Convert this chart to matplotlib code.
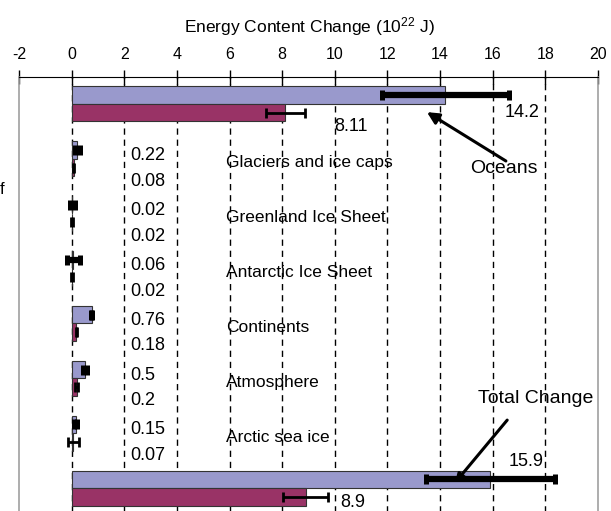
import numpy as np
import matplotlib
matplotlib.use("Agg")
import matplotlib.pyplot as plt

plt.rcParams["font.family"] = ["Liberation Sans", "DejaVu Sans"]
plt.rcParams["mathtext.default"] = "regular"
plt.rcParams["axes.unicode_minus"] = False

categories = ["Oceans", "Glaciers and ice caps", "Greenland Ice Sheet",
              "Antarctic Ice Sheet", "Continents", "Atmosphere",
              "Arctic sea ice", "Total Change"]
# 1961-2003 (upper bar) and 1993-2003 (lower bar), 10^22 J
change_long = [14.2, 0.22, 0.02, 0.06, 0.76, 0.5, 0.15, 15.9]
err_long = [2.4, 0.1, 0.1, 0.25, 0.03, 0.08, 0.05, 2.45]
change_short = [8.11, 0.08, 0.02, 0.02, 0.18, 0.2, 0.07, 8.9]
err_short = [0.74, 0.02, 0.04, 0.04, 0.02, 0.06, 0.22, 0.85]
xticks = list(range(-2, 21, 2))

purple = "#9999cc"
maroon = "#993366"

fig = plt.figure(figsize=(6.11, 5.11), dpi=100)
ax = fig.add_axes([19 / 611, 1 - 520 / 511, 579 / 611, 443 / 511])

rows = np.arange(len(categories))
h = 0.32
ax.barh(rows - h / 2, change_long, height=h, color=purple,
        edgecolor="#333333", linewidth=0.8, zorder=2)
ax.barh(rows + h / 2, change_short, height=h, color=maroon,
        edgecolor="#333333", linewidth=0.8, zorder=2)
ax.errorbar(change_long, rows - h / 2, xerr=err_long, fmt="none",
            ecolor="black", elinewidth=4.5, capsize=3.3, capthick=3.6, zorder=3)
ax.errorbar(change_short, rows + h / 2, xerr=err_short, fmt="none",
            ecolor="black", elinewidth=2, capsize=3.5, capthick=2, zorder=3)

ax.set_xlim(-2, 20)
ax.set_ylim(7.58, -0.49)
ax.set_xticks(xticks)
ax.set_xticklabels([str(t) for t in xticks])
ax.xaxis.tick_top()
ax.tick_params(axis="x", direction="inout", length=10, width=1,
               labelsize=11.5, pad=6)
ax.set_yticks([])

for x in xticks[1:-1]:
    ax.axvline(x, color="black", linewidth=1, linestyle=(0, (4.5, 3.5)), zorder=1)

for side in ["left", "right"]:
    ax.spines[side].set_color("#a0a0a0")
    ax.spines[side].set_linewidth(1.2)
ax.spines["top"].set_color("black")
ax.spines["bottom"].set_visible(False)

# value and name labels for the small components
for i in rows[1:-1]:
    ax.text(2.24, i - 0.06, f"{change_long[i]:g}", fontsize=13, va="center")
    ax.text(2.24, i + 0.41, f"{change_short[i]:g}", fontsize=13, va="center")
    ax.text(5.88, i + 0.07, categories[i], fontsize=12.5, va="center")

# oceans
ax.text(17.1, 0.16, f"{change_long[0]:g}", fontsize=13, ha="center", va="center")
ax.text(10.6, 0.42, f"{change_short[0]:g}", fontsize=13, ha="center", va="center")
ax.text(16.43, 1.17, categories[0], fontsize=14, ha="center", va="center")
ax.annotate("", xy=(13.5, 0.15), xytext=(16.5, 1.04),
            arrowprops=dict(arrowstyle="-|>,head_length=0.7,head_width=0.35",
                            color="black", lw=2.2, shrinkA=0, shrinkB=0))

# total
ax.text(17.27, 6.52, f"{change_long[7]:g}", fontsize=13, ha="center", va="center")
ax.text(10.7, 7.27, f"{change_short[7]:g}", fontsize=13, ha="center", va="center")
ax.text(17.65, 5.37, categories[7], fontsize=14, ha="center", va="center")
ax.annotate("", xy=(14.57, 6.9), xytext=(16.55, 5.76),
            arrowprops=dict(arrowstyle="-|>,head_length=0.5,head_width=0.25",
                            color="black", lw=2.2, shrinkA=0, shrinkB=0))

fig.text(309 / 611, 1 - 27 / 511, r"Energy Content Change (10$^{22}$ J)",
         fontsize=12.5, ha="center", va="center")
fig.text(0.0, 1 - 190 / 511, "f", fontsize=12, ha="left", va="center")

fig.savefig("out.png", dpi=100)
